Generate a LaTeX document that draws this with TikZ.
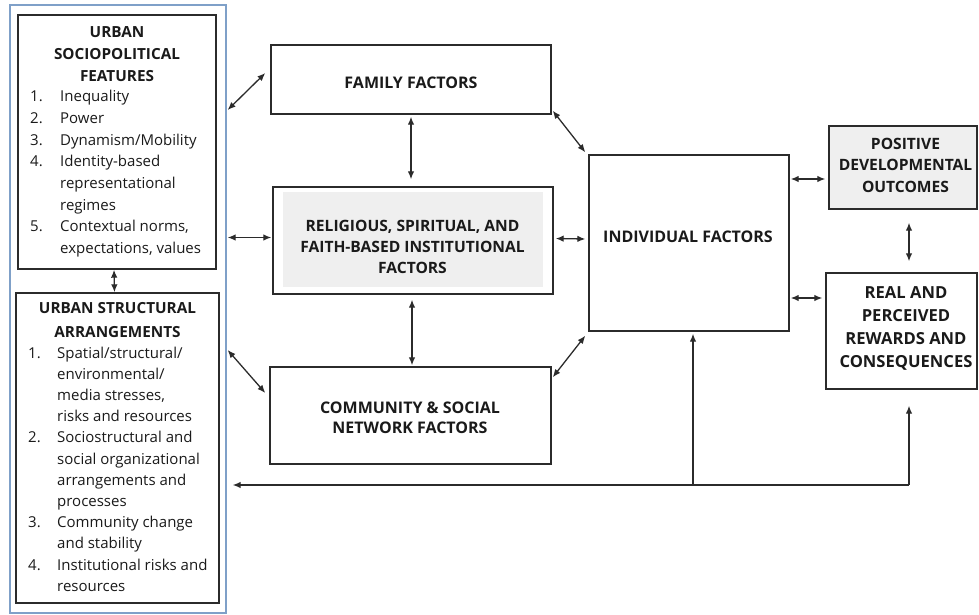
\documentclass[tikz,border=0pt]{standalone}
\usepackage{fontspec}
\setmainfont{Open Sans}
\usetikzlibrary{arrows.meta}
\definecolor{boxc}{HTML}{2B2B2B}
\definecolor{framec}{HTML}{7FA0C8}
\definecolor{fillc}{HTML}{EFEFEF}
\definecolor{txtc}{HTML}{1A1A1A}
\begin{document}
\begin{tikzpicture}[x=1pt,y=-1pt,
  box/.style={draw=boxc,line width=1.4pt,inner sep=0pt},
  arr/.style={draw=boxc,line width=1.3pt,{Latex[length=8pt,width=6.5pt]}-{Latex[length=8pt,width=6.5pt]}},
  oarr/.style={draw=boxc,line width=1.3pt,-{Latex[length=8pt,width=6.5pt]}},
  ttl/.style={font=\fontsize{15.3}{18}\selectfont\bfseries,text=txtc,inner sep=0pt,anchor=base},
  ttlm/.style={ttl,font=\fontsize{16}{18}\selectfont\bfseries},
  ttlr/.style={ttl,font=\fontsize{15.6}{18}\selectfont\bfseries},
  ttlp/.style={ttl,font=\fontsize{15.6}{18}\selectfont\bfseries},
  ttlb/.style={ttl,font=\fontsize{16.6}{18}\selectfont\bfseries},
  itm/.style={font=\fontsize{15}{18}\selectfont,text=txtc,inner sep=0pt,anchor=base west},
]
\useasboundingbox (0,0) rectangle (979,615);

% frames and boxes
\node[draw=framec,line width=1.3pt,inner sep=0pt,minimum width=216pt,minimum height=608pt] (blue) at (118,309) {};
\node[box,minimum width=198pt,minimum height=254pt] (usf) at (117,142) {};
\node[box,minimum width=203pt,minimum height=310pt] (usa) at (117.5,448) {};
\node[box,minimum width=280pt,minimum height=69pt] (fam) at (411,79.5) {};
\node[box,minimum width=280pt,minimum height=107pt] (rel) at (413,240.5) {};
\fill[fillc] (283,192) rectangle (543,287);
\node[box,minimum width=281pt,minimum height=97pt] (com) at (410.5,415.5) {};
\node[box,minimum width=200pt,minimum height=176pt] (ind) at (689,243) {};
\node[box,fill=fillc,minimum width=148pt,minimum height=83pt] (pos) at (903,167.5) {};
\node[box,minimum width=151pt,minimum height=116pt] (real) at (901.5,331) {};

% urban sociopolitical features
\node[ttl] (usft1) at (117,37.5) {URBAN};
\node[ttl] (usft2) at (117,60) {SOCIOPOLITICAL};
\node[ttl] (usft3) at (117,81.5) {FEATURES};
\node[itm] (usfn1) at (30,102) {1.};
\node[itm] (usfi1) at (60,102) {Inequality};
\node[itm] (usfn2) at (30,123.6) {2.};
\node[itm] (usfi2) at (60,123.6) {Power};
\node[itm] (usfn3) at (30,145.2) {3.};
\node[itm] (usfi3) at (60,145.2) {Dynamism/Mobility};
\node[itm] (usfn4) at (30,166.8) {4.};
\node[itm] (usfi4) at (60,166.8) {Identity-based};
\node[itm] (usfi4b) at (60,188.4) {representational};
\node[itm] (usfi4c) at (60,210) {regimes};
\node[itm] (usfn5) at (30,231.6) {5.};
\node[itm] (usfi5) at (60,231.6) {Contextual norms,};
\node[itm] (usfi5b) at (60,253.2) {expectations, values};

% urban structural arrangements
\node[ttl] (usat1) at (117.5,313.5) {URBAN STRUCTURAL};
\node[ttl] (usat2) at (117.5,337.5) {ARRANGEMENTS};
\node[itm] (usan1) at (28,358) {1.};
\node[itm] (usai1) at (57,358) {Spatial/structural/};
\node[itm] (usai1b) at (57,379.2) {environmental/};
\node[itm] (usai1c) at (57,400.4) {media stresses,};
\node[itm] (usai1d) at (57,421.6) {risks and resources};
\node[itm] (usan2) at (28,442.8) {2.};
\node[itm] (usai2) at (57,442.8) {Sociostructural and};
\node[itm] (usai2b) at (57,464) {social organizational};
\node[itm] (usai2c) at (57,485.2) {arrangements and};
\node[itm] (usai2d) at (57,506.4) {processes};
\node[itm] (usan3) at (28,527.6) {3.};
\node[itm] (usai3) at (57,527.6) {Community change};
\node[itm] (usai3b) at (57,548.8) {and stability};
\node[itm] (usan4) at (28,570) {4.};
\node[itm] (usai4) at (57,570) {Institutional risks and};
\node[itm] (usai4b) at (57,591.2) {resources};

% centre and right texts
\node[ttlm] (famt) at (411,89) {FAMILY FACTORS};
\node[ttlr] (relt1) at (412.5,231) {RELIGIOUS, SPIRITUAL, AND};
\node[ttlr] (relt2) at (412.5,252) {FAITH-BASED INSTITUTIONAL};
\node[ttlr] (relt3) at (412.5,273) {FACTORS};
\node[ttlm] (comt1) at (410,413) {COMMUNITY \& SOCIAL};
\node[ttlm] (comt2) at (410,433) {NETWORK FACTORS};
\node[ttlm] (indt) at (688,242) {INDIVIDUAL FACTORS};
\node[ttlp] (post1) at (905.5,149) {POSITIVE};
\node[ttlp] (post2) at (905.5,170) {DEVELOPMENTAL};
\node[ttlp] (post3) at (905.5,192) {OUTCOMES};
\node[ttlb] (realt1) at (906,298) {REAL AND};
\node[ttlb] (realt2) at (906,321) {PERCEIVED};
\node[ttlb] (realt3) at (906,344) {REWARDS AND};
\node[ttlb] (realt4) at (906,367) {CONSEQUENCES};

% connectors
\draw[arr] ([shift={(1,-199)}]blue.east) -- ([shift={(-5,-6.5)}]fam.west);
\draw[arr] ([shift={(1,-3)}]blue.east |- rel.west) -- ([shift={(-1,-3)}]rel.west);
\draw[arr] ([shift={(1,41)}]blue.east) -- ([shift={(-4,-22.5)}]com.west);
\draw[arr] ([xshift=-3pt]usf.south) -- ([xshift=-3pt]usa.north);
\draw[arr] ([shift={(0,2)}]fam.south) -- ([shift={(-2,-7)}]rel.north);
\draw[arr] ([shift={(-1,5)}]rel.south) -- ([shift={(1.5,-1)}]com.north);
\draw[arr] ([shift={(1,-4)}]fam.south east) -- ([shift={(-3,-2)}]ind.north west);
\draw[arr] ([shift={(2,-2)}]rel.east) -- ([shift={(-3,-4)}]ind.west);
\draw[arr] ([shift={(1,11)}]com.north east) -- ([shift={(-3,4)}]ind.south west);
\draw[arr] ([shift={(1,-64)}]ind.east) -- ([shift={(-3,11.5)}]pos.west);
\draw[arr] ([shift={(1,55)}]ind.east) -- ([shift={(-3,-33)}]real.west);
\draw[arr] ([shift={(6,13)}]pos.south) -- ([shift={(7.5,-11)}]real.north);
\coordinate (fbR) at (909,485);
\coordinate (fbM) at (693,485);
\draw[oarr] (fbR) -- ([shift={(6,176)}]blue.east);
\draw[oarr] (fbM) -- ([shift={(4,2)}]ind.south);
\draw[oarr] (fbR) -- ([shift={(7.5,16)}]real.south);
\end{tikzpicture}
\end{document}
